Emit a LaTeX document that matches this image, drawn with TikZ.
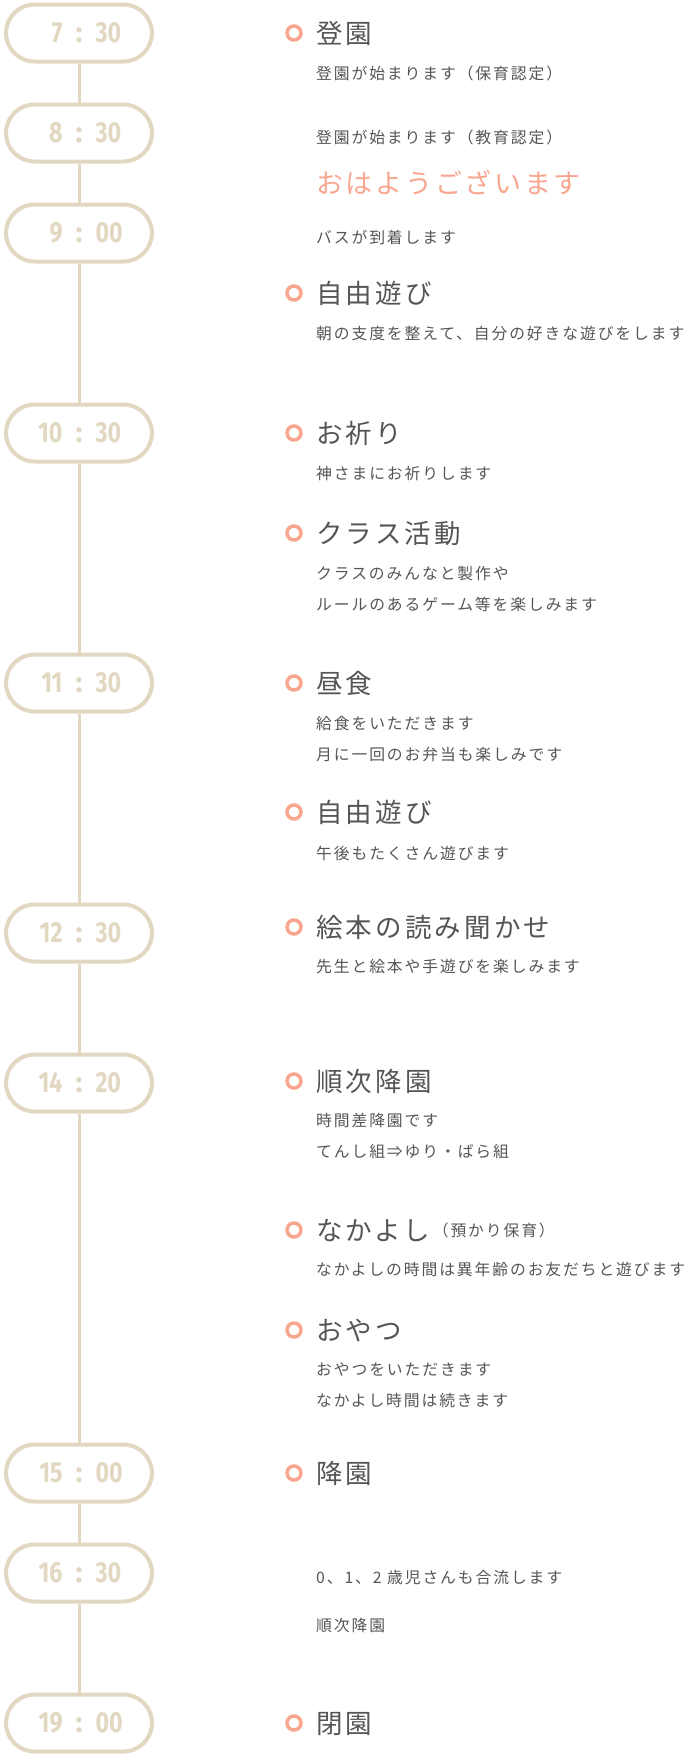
\documentclass[tikz,border=0pt]{standalone}
\usepackage{graphicx}
\usepackage{fontspec}
\newfontfamily\jptitle{Noto Sans CJK JP}[LetterSpace=12]
\newfontfamily\jpsub{Noto Sans CJK JP}[LetterSpace=12]
\newfontfamily\jpgreet{Noto Sans CJK JP}[LetterSpace=10]
\newfontfamily\timefont{Fira Sans}
\definecolor{beige}{HTML}{E2D8C2}
\definecolor{salmon}{HTML}{F9A68F}
\definecolor{txtgray}{HTML}{555555}
\newcommand\tmlabel[2]{\makebox[30pt][r]{\scalebox{0.8}[1]{#1}}\makebox[33pt]{:}\makebox[30pt][l]{\scalebox{0.8}[1]{#2}}}
\tikzset{
  pill/.style={draw=beige, line width=4pt, fill=white, rounded corners=28.5pt,
    minimum width=146pt, minimum height=57pt, inner sep=0pt, text=beige,
    font=\timefont\bfseries\fontsize{29}{29}\selectfont},
  conn/.style={draw=beige, line width=3pt},
  marker/.style={circle, draw=salmon, line width=3.5pt, minimum size=14pt, inner sep=0pt},
  ttl/.style={anchor=west, inner sep=0pt, text=txtgray,
    font=\jptitle\fontsize{26.5}{26.5}\selectfont, text height=23.3pt, text depth=3.2pt},
  subt/.style={anchor=west, inner sep=0pt, text=txtgray,
    font=\jpsub\fontsize{15.8}{15.8}\selectfont, text height=13.9pt, text depth=1.9pt},
  greet/.style={anchor=west, inner sep=0pt, text=salmon,
    font=\jpgreet\fontsize{27}{27}\selectfont, text height=23.8pt, text depth=3.2pt}
}
\begin{document}
\begin{tikzpicture}[x=1pt,y=-1pt]
\useasboundingbox (0,0) rectangle (690,1757);
% time pills
\node[pill] (t1) at (79,33) {\tmlabel{7}{30}};
\node[pill] (t2) at (79,133) {\tmlabel{8}{30}};
\node[pill] (t3) at (79,233) {\tmlabel{9}{00}};
\node[pill] (t4) at (79,433) {\tmlabel{10}{30}};
\node[pill] (t5) at (79,683) {\tmlabel{11}{30}};
\node[pill] (t6) at (79,933) {\tmlabel{12}{30}};
\node[pill] (t7) at (79,1083) {\tmlabel{14}{20}};
\node[pill] (t8) at (79,1473) {\tmlabel{15}{00}};
\node[pill] (t9) at (79,1573) {\tmlabel{16}{30}};
\node[pill] (t10) at (79,1723) {\tmlabel{19}{00}};
\foreach \a/\b in {t1/t2,t2/t3,t3/t4,t4/t5,t5/t6,t6/t7,t7/t8,t8/t9,t9/t10}
  \draw[conn] (\a.south) -- (\b.north);
% events
\node[marker] (m1) at (294,33) {};
\node[ttl] (e1) at (316,33) {登園};
\node[subt] (s1a) at (316,73) {登園が始まります（保育認定）};
\node[subt] (s1b) at (316,137) {登園が始まります（教育認定）};
\node[greet] (g1) at (316,183) {おはようございます};
\node[subt] (s1c) at (316,237) {バスが到着します};
\node[marker] (m2) at (294,293) {};
\node[ttl] (e2) at (316,293) {自由遊び};
\node[subt] (s2) at (316,333) {朝の支度を整えて、自分の好きな遊びをします};
\node[marker] (m3) at (294,433) {};
\node[ttl] (e3) at (316,433) {お祈り};
\node[subt] (s3) at (316,473) {神さまにお祈りします};
\node[marker] (m4) at (294,533) {};
\node[ttl] (e4) at (316,533) {クラス活動};
\node[subt] (s4a) at (316,573) {クラスのみんなと製作や};
\node[subt] (s4b) at (316,604) {ルールのあるゲーム等を楽しみます};
\node[marker] (m5) at (294,683) {};
\node[ttl] (e5) at (316,683) {昼食};
\node[subt] (s5a) at (316,723) {給食をいただきます};
\node[subt] (s5b) at (316,754) {月に一回のお弁当も楽しみです};
\node[marker] (m6) at (294,812) {};
\node[ttl] (e6) at (316,812) {自由遊び};
\node[subt] (s6) at (316,853) {午後もたくさん遊びます};
\node[marker] (m7) at (294,927) {};
\node[ttl] (e7) at (316,927) {絵本の読み聞かせ};
\node[subt] (s7) at (316,966) {先生と絵本や手遊びを楽しみます};
\node[marker] (m8) at (294,1081) {};
\node[ttl] (e8) at (316,1081) {順次降園};
\node[subt] (s8a) at (316,1120) {時間差降園です};
\node[subt] (s8b) at (316,1151) {てんし組⇒ゆり・ばら組};
\node[marker] (m9) at (294,1230) {};
\node[ttl] (e9) at (316,1230) {なかよし};
\node[subt] (e9p) at ([xshift=2pt]e9.east) {（預かり保育）};
\node[subt] (s9) at (316,1269) {なかよしの時間は異年齢のお友だちと遊びます};
\node[marker] (m10) at (294,1330) {};
\node[ttl] (e10) at (316,1330) {おやつ};
\node[subt] (s10a) at (316,1369) {おやつをいただきます};
\node[subt] (s10b) at (316,1400) {なかよし時間は続きます};
\node[marker] (m11) at (294,1473) {};
\node[ttl] (e11) at (316,1473) {降園};
\node[subt] (s12a) at (316,1577) {0、1、2 歳児さんも合流します};
\node[subt] (s12b) at (316,1625) {順次降園};
\node[marker] (m13) at (294,1723) {};
\node[ttl] (e13) at (316,1723) {閉園};
\end{tikzpicture}
\end{document}
